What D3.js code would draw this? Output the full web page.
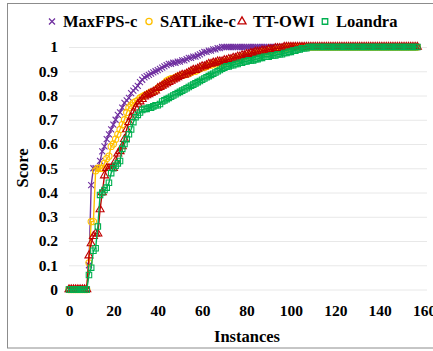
<!DOCTYPE html>
<html>
<head>
<meta charset="utf-8">
<script src="https://cdn.jsdelivr.net/npm/d3@7"></script>
<style>
  body { margin: 0; background: #fff; }
  svg { display: block; }
  svg text { font-family: "Liberation Serif", "Times New Roman", "DejaVu Serif", serif; font-weight: bold; fill: #000; }
</style>
</head>
<body>
<svg width="433" height="351"></svg>
<script>
// score per instance, index = instance number
let maxfps = [
    0,0,0,0,0,0,0,0,0,0.1,
    0.43,0.5,0.5,0.5,0.53,0.57,0.59,0.62,0.64,0.66,
    0.68,0.7,0.72,0.73,0.75,0.77,0.78,0.79,0.81,0.82,
    0.83,0.84,0.855,0.865,0.875,0.88,0.885,0.89,0.895,0.9,
    0.905,0.91,0.915,0.92,0.925,0.93,0.93,0.935,0.935,0.94,
    0.94,0.945,0.945,0.95,0.955,0.955,0.96,0.96,0.965,0.97,
    0.975,0.98,0.98,0.985,0.985,0.99,0.99,0.995,0.995,1,
    1,1,1,1,1,1,1,1,1,1,
    1,1,1,1,1,1,1,1,1,1,
    1,1,1,1,1,1,1,1,1,1,
    1,1,1,1,1,1,1,1,1,1,
    1,1,1,1,1,1,1,1,1,1,
    1,1,1,1,1,1,1,1,1,1,
    1,1,1,1,1,1,1,1,1,1,
    1,1,1,1,1,1,1,1,1,1,
    1,1,1,1,1,1,1,1
];
let satlike = [
    0,0,0,0,0,0,0,0,0,0.11,
    0.28,0.28,0.49,0.5,0.5,0.5,0.52,0.54,0.55,0.59,
    0.6,0.62,0.64,0.66,0.68,0.7,0.73,0.75,0.76,0.77,
    0.775,0.78,0.79,0.795,0.8,0.805,0.81,0.815,0.815,0.82,
    0.83,0.835,0.84,0.85,0.86,0.865,0.87,0.87,0.875,0.88,
    0.88,0.885,0.885,0.89,0.89,0.895,0.9,0.9,0.905,0.91,
    0.915,0.915,0.92,0.925,0.925,0.93,0.93,0.935,0.935,0.935,
    0.94,0.94,0.945,0.945,0.95,0.95,0.955,0.955,0.96,0.96,
    0.965,0.965,0.97,0.97,0.975,0.975,0.975,0.98,0.98,0.98,
    0.985,0.985,0.985,0.99,0.99,0.99,0.995,0.995,0.995,1,
    1,1,1,1,1,1,1,1,1,1,
    1,1,1,1,1,1,1,1,1,1,
    1,1,1,1,1,1,1,1,1,1,
    1,1,1,1,1,1,1,1,1,1,
    1,1,1,1,1,1,1,1,1,1,
    1,1,1,1,1,1,1,1
];
let ttowi = [
    0,0,0,0,0,0,0,0,0,0.14,
    0.19,0.22,0.23,0.23,0.33,0.4,0.47,0.5,0.5,0.5,
    0.5,0.53,0.56,0.57,0.59,0.62,0.66,0.69,0.71,0.73,
    0.75,0.765,0.775,0.785,0.795,0.8,0.805,0.81,0.815,0.82,
    0.83,0.835,0.84,0.845,0.85,0.855,0.86,0.865,0.87,0.875,
    0.88,0.885,0.885,0.89,0.895,0.9,0.905,0.905,0.91,0.915,
    0.92,0.92,0.925,0.93,0.93,0.935,0.935,0.94,0.94,0.94,
    0.945,0.945,0.95,0.95,0.955,0.955,0.96,0.96,0.965,0.965,
    0.97,0.97,0.975,0.975,0.98,0.98,0.98,0.985,0.985,0.985,
    0.99,0.99,0.99,0.995,0.995,0.995,0.995,1,1,1,
    1,1,1,1,1,1,1,1,1,1,
    1,1,1,1,1,1,1,1,1,1,
    1,1,1,1,1,1,1,1,1,1,
    1,1,1,1,1,1,1,1,1,1,
    1,1,1,1,1,1,1,1,1,1,
    1,1,1,1,1,1,1,1
];
let loandra = [
    0,0,0,0,0,0,0,0,0,0.06,
    0.09,0.16,0.17,0.26,0.39,0.4,0.41,0.42,0.44,0.48,
    0.5,0.51,0.52,0.53,0.58,0.6,0.62,0.64,0.66,0.69,
    0.71,0.72,0.73,0.74,0.745,0.745,0.75,0.75,0.755,0.76,
    0.76,0.765,0.775,0.78,0.785,0.79,0.795,0.8,0.805,0.81,
    0.815,0.82,0.825,0.83,0.835,0.84,0.845,0.85,0.855,0.86,
    0.865,0.87,0.875,0.88,0.885,0.89,0.895,0.9,0.905,0.91,
    0.915,0.92,0.92,0.925,0.925,0.93,0.93,0.935,0.935,0.94,
    0.94,0.945,0.945,0.945,0.95,0.95,0.955,0.955,0.96,0.96,
    0.96,0.965,0.965,0.965,0.97,0.97,0.97,0.975,0.975,0.98,
    0.98,0.985,0.985,0.99,0.99,0.995,0.995,0.995,1,1,
    1,1,1,1,1,1,1,1,1,1,
    1,1,1,1,1,1,1,1,1,1,
    1,1,1,1,1,1,1,1,1,1,
    1,1,1,1,1,1,1,1,1,1,
    1,1,1,1,1,1,1,1
];

let seriesNames = ["MaxFPS-c", "SATLike-c", "TT-OWI", "Loandra"];
let xTicks = [0, 20, 40, 60, 80, 100, 120, 140, 160];
let yTicks = [0, 0.1, 0.2, 0.3, 0.4, 0.5, 0.6, 0.7, 0.8, 0.9, 1];

let series = [
    {name: seriesNames[0], values: maxfps, color: "#7030A0", marker: "x"},
    {name: seriesNames[1], values: satlike, color: "#FFC000", marker: "circle"},
    {name: seriesNames[2], values: ttowi, color: "#C00000", marker: "triangle"},
    {name: seriesNames[3], values: loandra, color: "#00B050", marker: "square"}
];

function markerPath(type) {
    if (type == "x") return "M-3,-3L3,3M-3,3L3,-3";
    if (type == "circle") return d3.symbol().type(d3.symbolCircle).size(30)();
    if (type == "triangle") return d3.symbol().type(d3.symbolTriangle).size(28)();
    return d3.symbol().type(d3.symbolSquare).size(30)();
}

function draw() {
    let svg = d3.select("svg");

    // frame
    svg.append("rect")
        .attr("x", 7.5).attr("y", 3.5)
        .attr("width", 440).attr("height", 344.5)
        .attr("fill", "none")
        .attr("stroke", "#8c8c8c")
        .attr("stroke-width", 1);

    let x = d3.scaleLinear().domain([0, 160]).range([69, 424]);
    let y = d3.scaleLinear().domain([0, 1]).range([289.5, 47]);

    // horizontal gridlines
    svg.append("g")
        .attr("transform", "translate(69,0)")
        .call(d3.axisLeft(y).tickValues(yTicks).tickSize(-358).tickFormat(""))
        .call(g => g.select(".domain").remove())
        .call(g => g.selectAll("line").attr("stroke", "#e8e8e8"));

    // y axis labels
    svg.append("g")
        .attr("transform", "translate(69,0)")
        .call(d3.axisLeft(y).tickValues(yTicks).tickSize(0).tickPadding(11).tickFormat(d3.format("~g")))
        .call(g => g.select(".domain").remove())
        .call(g => g.selectAll("text").attr("font-size", 15.5));

    // x axis labels
    svg.append("g")
        .attr("transform", "translate(0,289.5)")
        .call(d3.axisBottom(x).tickValues(xTicks).tickSize(0).tickPadding(15))
        .call(g => g.select(".domain").remove())
        .call(g => g.selectAll("text").attr("font-size", 15.5));

    svg.append("text")
        .attr("x", 247).attr("y", 342)
        .attr("text-anchor", "middle")
        .attr("font-size", 16.5)
        .text("Instances");

    svg.append("text")
        .attr("transform", "translate(28,168) rotate(-90)")
        .attr("text-anchor", "middle")
        .attr("font-size", 16.5)
        .text("Score");

    let line = d3.line()
        .x((d, i) => x(i))
        .y(d => y(d));

    for (let s of series) {
        let g = svg.append("g");
        g.append("path")
            .datum(s.values)
            .attr("fill", "none")
            .attr("stroke", s.color)
            .attr("stroke-width", 1.4)
            .attr("d", line);
        g.selectAll("path.m")
            .data(s.values)
            .enter().append("path")
            .attr("class", "m")
            .attr("transform", (d, i) => `translate(${x(i)},${y(d)})`)
            .attr("d", markerPath(s.marker))
            .attr("fill", "none")
            .attr("stroke", s.color)
            .attr("stroke-width", 1.1);
    }

    // legend
    let legendX = [52, 149, 242, 325];
    let legend = svg.append("g");
    series.forEach((s, k) => {
        legend.append("path")
            .attr("transform", `translate(${legendX[k]},21.5)`)
            .attr("d", markerPath(s.marker))
            .attr("fill", "none")
            .attr("stroke", s.color)
            .attr("stroke-width", 1.3);
        legend.append("text")
            .attr("x", legendX[k] + 11).attr("y", 27)
            .attr("font-size", 16.5)
            .text(s.name);
    });
}

draw();
</script>
</body>
</html>
